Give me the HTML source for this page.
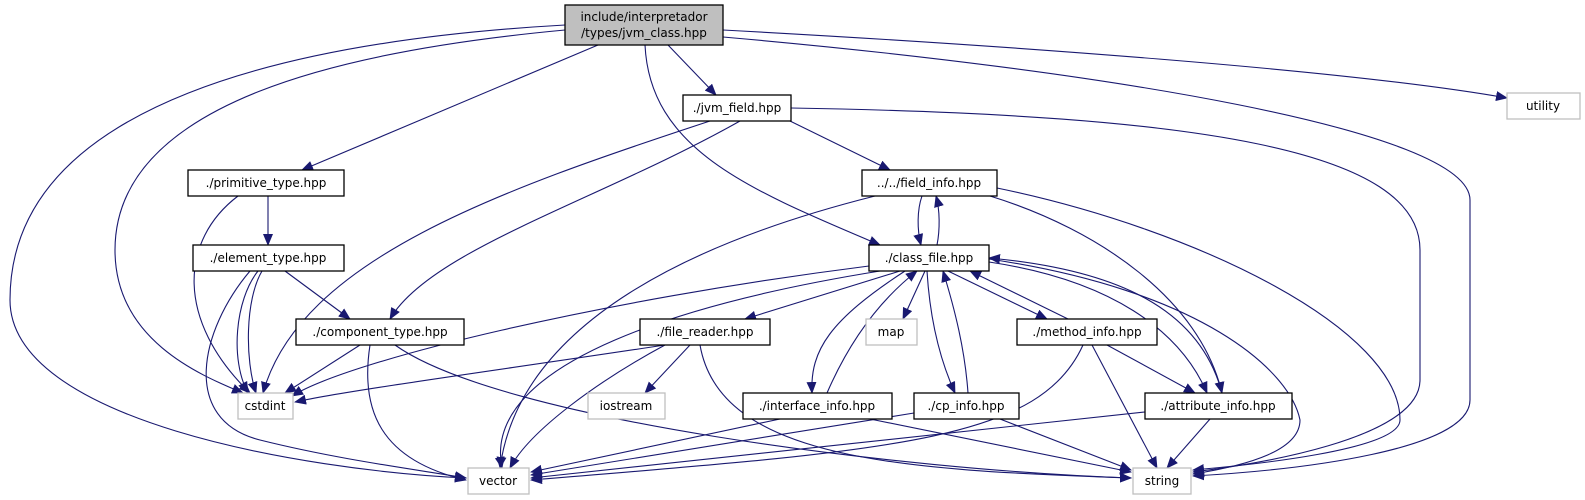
<!DOCTYPE html>
<html><head><meta charset="utf-8"><style>
html,body{margin:0;padding:0;background:#fff;width:1585px;height:500px;overflow:hidden}
svg text{font-family:"DejaVu Sans","Liberation Sans",sans-serif;font-size:12px;fill:#000}
.e{fill:none;stroke:#191970;stroke-width:1.1;marker-end:url(#a)}
.n{fill:#fff;stroke:#000;stroke-width:1.3}
.g{fill:#fff;stroke:#bfbfbf;stroke-width:1.3}
</style></head><body>
<svg width="1585" height="500" viewBox="0 0 1585 500" xmlns="http://www.w3.org/2000/svg">
<defs><marker id="a" markerWidth="12" markerHeight="10" refX="11" refY="5" orient="auto" markerUnits="userSpaceOnUse"><path d="M0,0 L12,5 L0,10 Z" fill="#191970"/></marker></defs>
<g>
<path class="e" d="M565,25 C300,40 10,100 10,300 C10,420 300,470 466,478"/>
<path class="e" d="M565,30 C350,50 115,100 115,250 C115,340 200,375 243,393"/>
<path class="e" d="M598,45 L302,170"/>
<path class="e" d="M668,45 L716,95"/>
<path class="e" d="M645,45 C650,150 750,190 880,245"/>
<path class="e" d="M723,30 C1000,45 1350,70 1507,98"/>
<path class="e" d="M723,37 C1100,70 1470,130 1470,200 L1470,400 C1470,450 1300,470 1193,476"/>
<path class="e" d="M710,121 C500,190 300,260 263,393"/>
<path class="e" d="M740,121 C600,200 430,250 390,319"/>
<path class="e" d="M790,121 L890,170"/>
<path class="e" d="M791,108 C1200,115 1420,150 1420,250 L1420,380 C1420,440 1250,465 1193,472"/>
<path class="e" d="M268,196 L268,245"/>
<path class="e" d="M238,196 C180,240 175,320 250,393"/>
<path class="e" d="M285,271 L350,319"/>
<path class="e" d="M262,271 C245,300 245,360 256,393"/>
<path class="e" d="M258,271 C235,300 230,360 248,393"/>
<path class="e" d="M250,271 C200,330 180,420 260,440 C340,460 420,470 466,478"/>
<path class="e" d="M922,196 C917,210 917,230 921,245"/>
<path class="e" d="M937,245 C940,230 940,210 936,196"/>
<path class="e" d="M875,196 C700,240 520,320 500,468"/>
<path class="e" d="M990,196 C1100,230 1200,300 1222,393"/>
<path class="e" d="M997,188 C1200,230 1400,330 1400,420 C1400,450 1250,465 1193,470"/>
<path class="e" d="M869,266 C600,300 350,360 292,396"/>
<path class="e" d="M880,271 C700,300 480,360 502,468"/>
<path class="e" d="M900,271 L745,319"/>
<path class="e" d="M925,271 L903,319"/>
<path class="e" d="M905,271 C830,320 810,350 812,393"/>
<path class="e" d="M827,393 C850,340 880,300 917,271"/>
<path class="e" d="M927,271 C930,320 940,360 955,393"/>
<path class="e" d="M968,393 C965,350 955,310 943,271"/>
<path class="e" d="M948,271 L1047,319"/>
<path class="e" d="M1068,319 L970,271"/>
<path class="e" d="M989,262 C1110,280 1180,330 1207,393"/>
<path class="e" d="M1222,393 C1200,310 1120,270 989,258"/>
<path class="e" d="M989,259 C1200,290 1290,370 1300,420 C1300,450 1250,465 1193,474"/>
<path class="e" d="M1107,345 L1195,393"/>
<path class="e" d="M1092,345 L1157,468"/>
<path class="e" d="M1083,345 C1040,440 900,450 531,480"/>
<path class="e" d="M360,345 L285,393"/>
<path class="e" d="M370,345 C360,410 380,460 466,480"/>
<path class="e" d="M395,345 C500,420 900,470 1131,478"/>
<path class="e" d="M665,345 C500,370 350,390 295,402"/>
<path class="e" d="M690,345 L645,393"/>
<path class="e" d="M665,345 C600,380 530,430 510,468"/>
<path class="e" d="M700,345 C720,460 900,470 1131,478"/>
<path class="e" d="M780,419 L531,472"/>
<path class="e" d="M870,419 L1131,472"/>
<path class="e" d="M914,413 L531,475"/>
<path class="e" d="M1000,419 L1131,470"/>
<path class="e" d="M1145,412 L531,478"/>
<path class="e" d="M1210,419 L1167,468"/>
</g>
<g>
<rect x="565" y="5" width="158" height="40" fill="#bfbfbf" stroke="#000" stroke-width="1.3"/>
<text x="644" y="21" text-anchor="middle">include/interpretador</text>
<text x="644" y="37" text-anchor="middle">/types/jvm_class.hpp</text>
<rect class="g" x="1507" y="93" width="73" height="26"/><text x="1543" y="110" text-anchor="middle">utility</text>
<rect class="n" x="683" y="95" width="108" height="26"/><text x="737" y="112" text-anchor="middle">./jvm_field.hpp</text>
<rect class="n" x="188" y="170" width="156" height="26"/><text x="266" y="187" text-anchor="middle">./primitive_type.hpp</text>
<rect class="n" x="862" y="170" width="135" height="26"/><text x="929" y="187" text-anchor="middle">../../field_info.hpp</text>
<rect class="n" x="193" y="245" width="151" height="26"/><text x="268" y="262" text-anchor="middle">./element_type.hpp</text>
<rect class="n" x="869" y="245" width="120" height="26"/><text x="929" y="262" text-anchor="middle">./class_file.hpp</text>
<rect class="n" x="296" y="319" width="168" height="26"/><text x="380" y="336" text-anchor="middle">./component_type.hpp</text>
<rect class="n" x="640" y="319" width="130" height="26"/><text x="705" y="336" text-anchor="middle">./file_reader.hpp</text>
<rect class="g" x="866" y="319" width="51" height="26"/><text x="891" y="336" text-anchor="middle">map</text>
<rect class="n" x="1017" y="319" width="140" height="26"/><text x="1087" y="336" text-anchor="middle">./method_info.hpp</text>
<rect class="g" x="238" y="393" width="55" height="26"/><text x="265" y="410" text-anchor="middle">cstdint</text>
<rect class="g" x="588" y="393" width="77" height="26"/><text x="626" y="410" text-anchor="middle">iostream</text>
<rect class="n" x="743" y="393" width="149" height="26"/><text x="817" y="410" text-anchor="middle">./interface_info.hpp</text>
<rect class="n" x="914" y="393" width="105" height="26"/><text x="966" y="410" text-anchor="middle">./cp_info.hpp</text>
<rect class="n" x="1145" y="393" width="147" height="26"/><text x="1218" y="410" text-anchor="middle">./attribute_info.hpp</text>
<rect class="g" x="468" y="468" width="61" height="26"/><text x="498" y="485" text-anchor="middle">vector</text>
<rect class="g" x="1133" y="468" width="58" height="26"/><text x="1162" y="485" text-anchor="middle">string</text>
</g>
</svg>
</body></html>
